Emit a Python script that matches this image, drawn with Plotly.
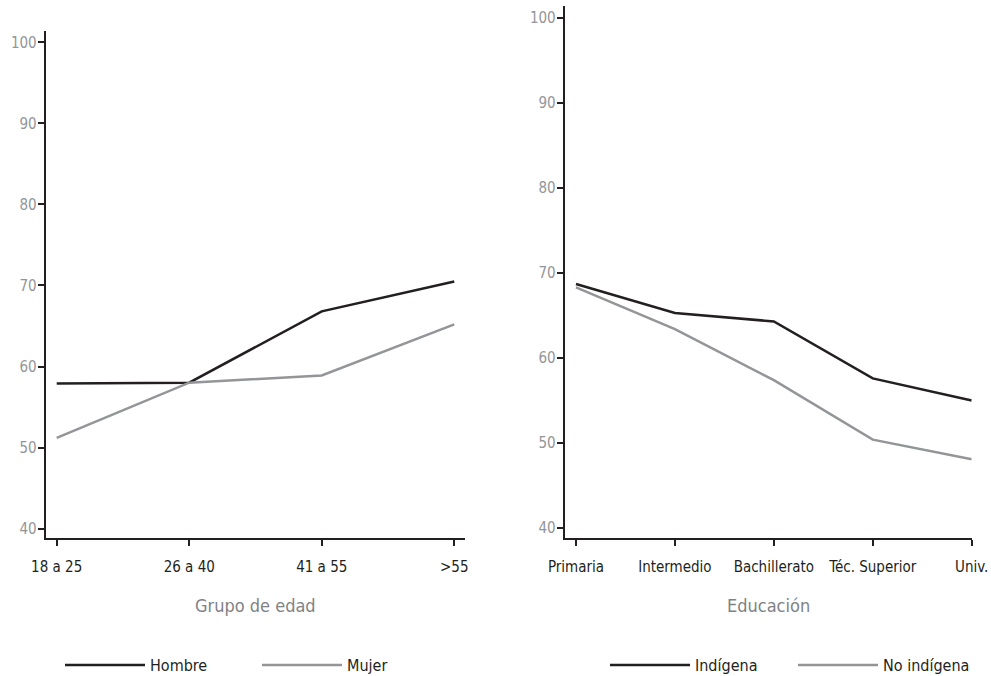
import plotly.graph_objects as go

# ---- data ----
age_groups = ["18 a 25", "26 a 40", "41 a 55", ">55"]
hombre = [57.9, 58.0, 66.8, 70.5]
mujer = [51.2, 58.0, 58.9, 65.2]

education = ["Primaria", "Intermedio", "Bachillerato", "Téc. Superior", "Univ."]
indigena = [68.7, 65.3, 64.3, 57.6, 55.0]
no_indigena = [68.3, 63.4, 57.4, 50.4, 48.1]

y_ticks = [40, 50, 60, 70, 80, 90, 100]

# ---- style ----
W, H = 991, 676
DARK = "#231f20"
GREY = "#939598"
FONT = "DejaVu Sans Condensed, Liberation Sans Narrow, Roboto Condensed, sans-serif"

fig = go.Figure()
fig.add_trace(go.Scatter(x=age_groups, y=hombre, mode="lines", name="Hombre",
                         line=dict(color=DARK, width=2.5), xaxis="x", yaxis="y", legend="legend"))
fig.add_trace(go.Scatter(x=age_groups, y=mujer, mode="lines", name="Mujer",
                         line=dict(color=GREY, width=2.5), xaxis="x", yaxis="y", legend="legend"))
fig.add_trace(go.Scatter(x=education, y=indigena, mode="lines", name="Indígena",
                         line=dict(color=DARK, width=2.5), xaxis="x2", yaxis="y2", legend="legend2"))
fig.add_trace(go.Scatter(x=education, y=no_indigena, mode="lines", name="No indígena",
                         line=dict(color=GREY, width=2.5), xaxis="x2", yaxis="y2", legend="legend2"))

def px_x(p):
    return p / W

def px_y(p):
    return 1 - p / H

xcommon = dict(type="category", showline=True, linecolor=DARK, linewidth=2,
               ticks="outside", ticklen=6, tickwidth=2, tickcolor=DARK,
               showgrid=False, zeroline=False, automargin=False, tickangle=0,
               tickfont=dict(family=FONT, size=15, color=DARK), ticklabelstandoff=8)
ycommon = dict(showline=True, linecolor=DARK, linewidth=2,
               ticks="outside", ticklen=6, tickwidth=2, tickcolor=DARK,
               showgrid=False, zeroline=False, range=[38.8, 101.4], automargin=False,
               tickvals=y_ticks, tickfont=dict(family=FONT, size=15, color=GREY),
               ticklabelstandoff=-2)

fig.update_layout(
    width=W, height=H,
    margin=dict(l=0, r=0, t=0, b=0, autoexpand=False),
    paper_bgcolor="white", plot_bgcolor="white",
    font=dict(family=FONT, color=DARK),
    xaxis=dict(xcommon, domain=[px_x(45.7), px_x(465)], range=[-0.083, 3.081], anchor="y"),
    yaxis=dict(ycommon, domain=[px_y(538.3), px_y(31)], anchor="x"),
    xaxis2=dict(xcommon, domain=[px_x(564.7), px_x(971.7)], range=[-0.114, 4.0], anchor="y2"),
    yaxis2=dict(ycommon, domain=[px_y(538.3), px_y(6)], anchor="x2"),
    legend=dict(orientation="h", x=px_x(60), y=px_y(665), xanchor="left", yanchor="middle",
                font=dict(family=FONT, size=16, color=DARK), itemwidth=80, entrywidth=102,
                bgcolor="rgba(0,0,0,0)"),
    legend2=dict(orientation="h", x=px_x(605), y=px_y(665), xanchor="left", yanchor="middle",
                 font=dict(family=FONT, size=16, color=DARK), itemwidth=80, entrywidth=93,
                 bgcolor="rgba(0,0,0,0)"),
    annotations=[
        dict(text="Grupo de edad", x=px_x(255), y=px_y(605), xref="paper", yref="paper",
             showarrow=False, xanchor="center", yanchor="middle",
             font=dict(family=FONT, size=18, color="#808285")),
        dict(text="Educación", x=px_x(768), y=px_y(605), xref="paper", yref="paper",
             showarrow=False, xanchor="center", yanchor="middle",
             font=dict(family=FONT, size=18, color="#808285")),
    ],
)

fig.write_html("out.html", config={"displayModeBar": False},
               post_script="document.body.style.margin='0';")
